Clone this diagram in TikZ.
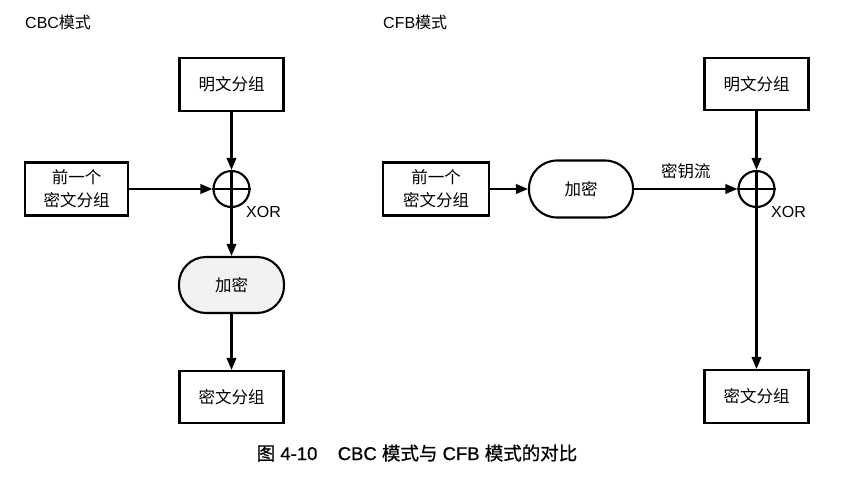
\documentclass[tikz,border=0pt]{standalone}
\usepackage{fontspec}
\setmainfont{Liberation Sans}
\newfontfamily\cjk{Noto Sans CJK SC}
\newfontfamily\cjkcap[FakeBold=0.7]{Noto Sans CJK SC}
\newfontfamily\latcap[FakeBold=0.7]{Liberation Sans}
\usetikzlibrary{arrows.meta}
\begin{document}
\begin{tikzpicture}[x=1pt,y=-1pt,
  every node/.style={inner sep=0pt},
  blk/.style={draw,line width=2.1pt,minimum width=104pt,minimum height=53pt,font=\cjk\fontsize{16.5}{23}\selectfont,align=center},
  enc/.style={draw,line width=2.1pt,rounded corners=27pt,minimum width=105pt,minimum height=56pt,font=\cjk\fontsize{16.5}{23}\selectfont},
  xorc/.style={draw,circle,line width=2.1pt,minimum size=36pt},
  arr/.style={line width=2.1pt,-{Triangle[length=12pt,width=9.5pt]}},
  lbl/.style={font=\fontsize{16}{18}\selectfont},
]
\useasboundingbox (0,0) rectangle (852,480);
% titles
\node[lbl,anchor=west] (tl) at (25,22) {CBC{\cjk 模式}};
\node[lbl,anchor=west] (tr) at (383,22) {CFB{\cjk 模式}};
% CBC
\node[blk] (lp) at (231.5,84.5) {明文分组};
\node[blk,minimum width=103pt] (lprev) at (76.5,189) {前一个\\密文分组};
\node[xorc] (lx) at (231.5,189) {};
\draw[line width=2.1pt] (lx.north) -- (lx.south) (lx.west) -- (lx.east);
\node[lbl,anchor=west] (lxl) at (246,212) {XOR};
\node[enc,fill=gray!10] (le) at (231.5,285) {加密};
\node[blk,minimum height=52pt] (lc) at (231.5,397) {密文分组};
\draw[arr] (lp.south) -- (lx.north);
\draw[arr] (lprev.east) -- (lx.west);
\draw[arr] (lx.south) -- (le.north);
\draw[arr] (le.south) -- (lc.north);
% CFB
\node[blk,minimum height=52pt] (rp) at (756.5,84) {明文分组};
\node[blk,minimum width=106pt] (rprev) at (436,189) {前一个\\密文分组};
\node[enc,minimum width=104pt,minimum height=57pt,rounded corners=28pt] (re) at (581,189) {加密};
\node[xorc] (rx) at (756.5,189) {};
\draw[line width=2.1pt] (rx.north) -- (rx.south) (rx.west) -- (rx.east);
\node[lbl,anchor=west] (rxl) at (771,212) {XOR};
\node[blk] (rc) at (756.5,396.5) {密文分组};
\draw[arr] (rprev.east) -- (re.west);
\draw[arr] (re.east) -- node[above=9pt,font=\cjk\fontsize{16.5}{18}\selectfont] (ks) {密钥流} (rx.west);
\draw[arr] (rp.south) -- (rx.north);
\draw[arr] (rx.south) -- (rc.north);
% caption
\node[font=\latcap\fontsize{18.5}{22}\selectfont] (cap) at (417,453) {{\cjkcap 图} 4-10\hspace{1.1em}CBC {\cjkcap 模式与} CFB {\cjkcap 模式的对比}};
\end{tikzpicture}
\end{document}
